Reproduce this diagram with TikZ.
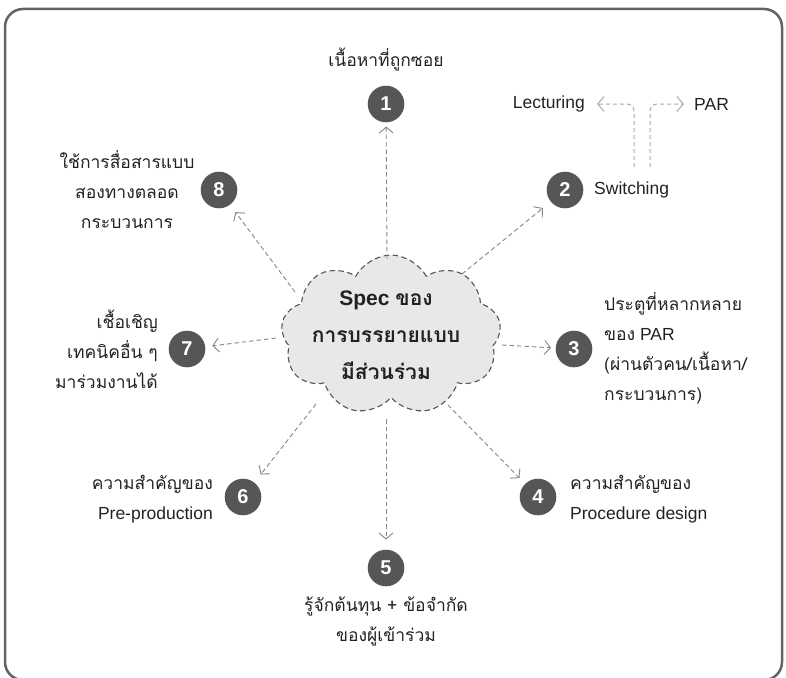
\documentclass[tikz,border=0pt]{standalone}
\usepackage{fontspec}
\setmainfont{Liberation Sans}
\newfontfamily\thaifont[Script=Thai]{Loma}
\usetikzlibrary{shapes.symbols,arrows.meta}
\definecolor{circc}{HTML}{565656}
\definecolor{connc}{HTML}{858585}
\definecolor{splitc}{HTML}{ABABAB}
\definecolor{framec}{HTML}{636363}
\definecolor{cloudfill}{HTML}{E8E8E8}
\definecolor{cloudline}{HTML}{555555}
\definecolor{txtc}{HTML}{222222}
\begin{document}
\begin{tikzpicture}[x=1pt,y=-1pt,
  num/.style={circle,fill=circc,text=white,minimum size=36.6pt,inner sep=0pt,font=\fontsize{20}{20}\selectfont\bfseries},
  lbl/.style={text=txtc,inner sep=0pt,font=\fontsize{17.5}{30}\selectfont},
  connector/.style={draw=connc,line width=0.9pt,dash pattern=on 4.5pt off 3pt,-{Straight Barb[length=6pt,width=14pt,line width=0.9pt]}},
  splitarrow/.style={draw=splitc,line width=1pt,dash pattern=on 4pt off 3pt,-{Straight Barb[length=6.5pt,width=15pt,line width=1pt]}}]
\useasboundingbox (0,0) rectangle (786,677);
\draw[framec,line width=2.5pt,rounded corners=18pt] (5,9) rectangle (782,680);

% cloud
\node[cloud,cloud puffs=9,cloud puff arc=125,aspect=1.4,minimum width=220pt,minimum height=160pt,
      draw=cloudline,fill=cloudfill,line width=1.1pt,dash pattern=on 5.5pt off 3.5pt] (cl) at (391,335) {};
\node[text=txtc,align=center,inner sep=0pt,font=\fontsize{21}{37}\selectfont\bfseries] (clt) at (386,335)
  {Spec {\thaifont ของ}\\{\thaifont การบรรยายแบบ}\\{\thaifont มีส่วนร่วม}};

% numbered circles
\node[num] (c1) at (386,104) {1};
\node[num] (c2) at (565,190) {2};
\node[num] (c3) at (574,349) {3};
\node[num] (c4) at (538,497) {4};
\node[num] (c5) at (386,568) {5};
\node[num] (c6) at (243,497) {6};
\node[num] (c7) at (187,349) {7};
\node[num] (c8) at (219,190) {8};

% labels
\node[lbl] (l1) at (386,60) {\thaifont เนื้อหาที่ถูกซอย};
\node[lbl,anchor=west] (l2) at (594,190) {Switching};
\node[lbl,anchor=east] (lect) at (585,104) {Lecturing};
\node[lbl,anchor=west] (par) at (694,104) {PAR};
\node[lbl,anchor=west,align=left] (l3) at (604,348)
  {{\thaifont ประตูที่หลากหลาย}\\{\thaifont ของ} PAR\\{\thaifont (ผ่านตัวคน/เนื้อหา/}\\{\thaifont กระบวนการ)}};
\node[lbl,anchor=west,align=left] (l4) at (570,499)
  {{\thaifont ความสำคัญของ}\\Procedure design};
\node[lbl,align=center] (l5) at (386,621)
  {{\thaifont รู้จักต้นทุน + ข้อจำกัด}\\{\thaifont ของผู้เข้าร่วม}};
\node[lbl,anchor=east,align=right] (l6) at (213,499)
  {{\thaifont ความสำคัญของ}\\Pre-production};
\node[lbl,anchor=east,align=right] (l7) at (158,349)
  {{\thaifont เชื้อเชิญ}\\{\thaifont เทคนิคอื่น ๆ}\\{\thaifont มาร่วมงานได้}};
\node[lbl,align=center] (l8) at (127,190)
  {{\thaifont ใช้การสื่อสารแบบ}\\{\thaifont สองทางตลอด}\\{\thaifont กระบวนการ}};

% connector start points on the cloud
\coordinate (s1) at (387,259);
\coordinate (s2) at (462,274);
\coordinate (s3) at (502,345);
\coordinate (s4) at (448,405);
\coordinate (s5) at (386,419);
\coordinate (s6) at (316,404);
\coordinate (s7) at (276,338);
\coordinate (s8) at (295,292);

\draw[connector,shorten >=4pt] (s1) -- (c1);
\draw[connector,shorten >=10pt] (s2) -- (c2);
\draw[connector,shorten >=4.5pt] (s3) -- (c3);
\draw[connector,shorten >=8pt] (s4) -- (c4);
\draw[connector,shorten >=10pt] (s5) -- (c5);
\draw[connector,shorten >=10pt] (s6) -- (c6);
\draw[connector,shorten >=7pt] (s7) -- (c7);
\draw[connector,shorten >=9pt] (s8) -- (c8);

% switching branches
\coordinate (b1) at (634,167);
\coordinate (b2) at (650,167);
\draw[splitarrow,rounded corners=7pt,shorten >=12pt] (b1) |- (lect);
\draw[splitarrow,rounded corners=7pt,shorten >=10pt] (b2) |- (par);
\end{tikzpicture}
\end{document}
